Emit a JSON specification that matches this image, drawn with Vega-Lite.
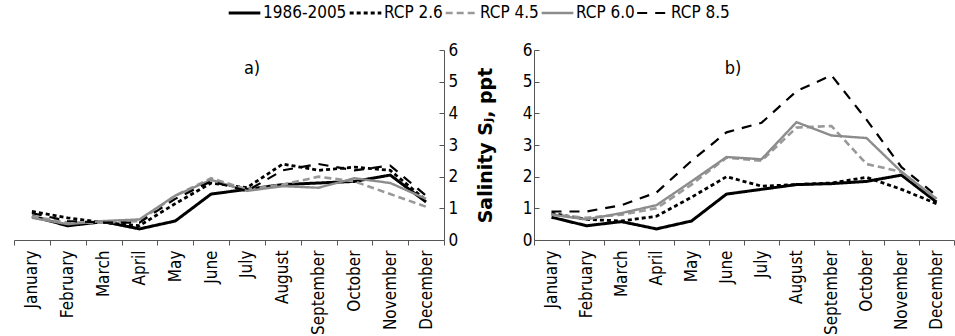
{
  "$schema": "https://vega.github.io/schema/vega-lite/v6.json",
  "padding": {"left": 5, "top": 0, "right": 0, "bottom": 0},
  "config": {
    "view": {"stroke": null},
    "font": "DejaVu Sans Condensed",
    "axis": {"domainColor": "#555", "tickColor": "#555", "labelColor": "#000", "grid": false, "labelFont": "DejaVu Sans Condensed"},
    "legend": {"labelFont": "DejaVu Sans Condensed", "labelFontSize": 17, "labelColor": "#000", "padding": 0},
    "title": {"font": "DejaVu Sans Condensed", "fontSize": 18, "fontWeight": "normal", "color": "#000"}
  },
  "data": {"values": [
    {"panel":"a","series":"1986-2005","month":"January","v":0.75},
    {"panel":"a","series":"1986-2005","month":"February","v":0.45},
    {"panel":"a","series":"1986-2005","month":"March","v":0.58},
    {"panel":"a","series":"1986-2005","month":"April","v":0.35},
    {"panel":"a","series":"1986-2005","month":"May","v":0.6},
    {"panel":"a","series":"1986-2005","month":"June","v":1.45},
    {"panel":"a","series":"1986-2005","month":"July","v":1.6},
    {"panel":"a","series":"1986-2005","month":"August","v":1.75},
    {"panel":"a","series":"1986-2005","month":"September","v":1.8},
    {"panel":"a","series":"1986-2005","month":"October","v":1.85},
    {"panel":"a","series":"1986-2005","month":"November","v":2.05},
    {"panel":"a","series":"1986-2005","month":"December","v":1.2},
    {"panel":"a","series":"RCP 2.6","month":"January","v":0.9},
    {"panel":"a","series":"RCP 2.6","month":"February","v":0.7},
    {"panel":"a","series":"RCP 2.6","month":"March","v":0.55},
    {"panel":"a","series":"RCP 2.6","month":"April","v":0.45},
    {"panel":"a","series":"RCP 2.6","month":"May","v":1.15},
    {"panel":"a","series":"RCP 2.6","month":"June","v":1.8},
    {"panel":"a","series":"RCP 2.6","month":"July","v":1.65},
    {"panel":"a","series":"RCP 2.6","month":"August","v":2.4},
    {"panel":"a","series":"RCP 2.6","month":"September","v":2.2},
    {"panel":"a","series":"RCP 2.6","month":"October","v":2.3},
    {"panel":"a","series":"RCP 2.6","month":"November","v":2.2},
    {"panel":"a","series":"RCP 2.6","month":"December","v":1.25},
    {"panel":"a","series":"RCP 4.5","month":"January","v":0.75},
    {"panel":"a","series":"RCP 4.5","month":"February","v":0.55},
    {"panel":"a","series":"RCP 4.5","month":"March","v":0.55},
    {"panel":"a","series":"RCP 4.5","month":"April","v":0.6},
    {"panel":"a","series":"RCP 4.5","month":"May","v":1.4},
    {"panel":"a","series":"RCP 4.5","month":"June","v":1.95},
    {"panel":"a","series":"RCP 4.5","month":"July","v":1.6},
    {"panel":"a","series":"RCP 4.5","month":"August","v":1.75},
    {"panel":"a","series":"RCP 4.5","month":"September","v":2.0},
    {"panel":"a","series":"RCP 4.5","month":"October","v":1.85},
    {"panel":"a","series":"RCP 4.5","month":"November","v":1.45},
    {"panel":"a","series":"RCP 4.5","month":"December","v":1.05},
    {"panel":"a","series":"RCP 6.0","month":"January","v":0.7},
    {"panel":"a","series":"RCP 6.0","month":"February","v":0.5},
    {"panel":"a","series":"RCP 6.0","month":"March","v":0.6},
    {"panel":"a","series":"RCP 6.0","month":"April","v":0.65},
    {"panel":"a","series":"RCP 6.0","month":"May","v":1.4},
    {"panel":"a","series":"RCP 6.0","month":"June","v":1.9},
    {"panel":"a","series":"RCP 6.0","month":"July","v":1.55},
    {"panel":"a","series":"RCP 6.0","month":"August","v":1.7},
    {"panel":"a","series":"RCP 6.0","month":"September","v":1.65},
    {"panel":"a","series":"RCP 6.0","month":"October","v":1.95},
    {"panel":"a","series":"RCP 6.0","month":"November","v":1.8},
    {"panel":"a","series":"RCP 6.0","month":"December","v":1.3},
    {"panel":"a","series":"RCP 8.5","month":"January","v":0.85},
    {"panel":"a","series":"RCP 8.5","month":"February","v":0.6},
    {"panel":"a","series":"RCP 8.5","month":"March","v":0.55},
    {"panel":"a","series":"RCP 8.5","month":"April","v":0.55},
    {"panel":"a","series":"RCP 8.5","month":"May","v":1.3},
    {"panel":"a","series":"RCP 8.5","month":"June","v":1.85},
    {"panel":"a","series":"RCP 8.5","month":"July","v":1.55},
    {"panel":"a","series":"RCP 8.5","month":"August","v":2.2},
    {"panel":"a","series":"RCP 8.5","month":"September","v":2.4},
    {"panel":"a","series":"RCP 8.5","month":"October","v":2.2},
    {"panel":"a","series":"RCP 8.5","month":"November","v":2.35},
    {"panel":"a","series":"RCP 8.5","month":"December","v":1.4},
    {"panel":"b","series":"1986-2005","month":"January","v":0.72},
    {"panel":"b","series":"1986-2005","month":"February","v":0.45},
    {"panel":"b","series":"1986-2005","month":"March","v":0.58},
    {"panel":"b","series":"1986-2005","month":"April","v":0.35},
    {"panel":"b","series":"1986-2005","month":"May","v":0.6},
    {"panel":"b","series":"1986-2005","month":"June","v":1.45},
    {"panel":"b","series":"1986-2005","month":"July","v":1.6},
    {"panel":"b","series":"1986-2005","month":"August","v":1.75},
    {"panel":"b","series":"1986-2005","month":"September","v":1.78},
    {"panel":"b","series":"1986-2005","month":"October","v":1.85},
    {"panel":"b","series":"1986-2005","month":"November","v":2.05},
    {"panel":"b","series":"1986-2005","month":"December","v":1.2},
    {"panel":"b","series":"RCP 2.6","month":"January","v":0.85},
    {"panel":"b","series":"RCP 2.6","month":"February","v":0.65},
    {"panel":"b","series":"RCP 2.6","month":"March","v":0.6},
    {"panel":"b","series":"RCP 2.6","month":"April","v":0.75},
    {"panel":"b","series":"RCP 2.6","month":"May","v":1.35},
    {"panel":"b","series":"RCP 2.6","month":"June","v":2.0},
    {"panel":"b","series":"RCP 2.6","month":"July","v":1.7},
    {"panel":"b","series":"RCP 2.6","month":"August","v":1.75},
    {"panel":"b","series":"RCP 2.6","month":"September","v":1.8},
    {"panel":"b","series":"RCP 2.6","month":"October","v":1.98},
    {"panel":"b","series":"RCP 2.6","month":"November","v":1.6},
    {"panel":"b","series":"RCP 2.6","month":"December","v":1.15},
    {"panel":"b","series":"RCP 4.5","month":"January","v":0.8},
    {"panel":"b","series":"RCP 4.5","month":"February","v":0.7},
    {"panel":"b","series":"RCP 4.5","month":"March","v":0.8},
    {"panel":"b","series":"RCP 4.5","month":"April","v":1.0},
    {"panel":"b","series":"RCP 4.5","month":"May","v":1.75},
    {"panel":"b","series":"RCP 4.5","month":"June","v":2.6},
    {"panel":"b","series":"RCP 4.5","month":"July","v":2.5},
    {"panel":"b","series":"RCP 4.5","month":"August","v":3.55},
    {"panel":"b","series":"RCP 4.5","month":"September","v":3.6},
    {"panel":"b","series":"RCP 4.5","month":"October","v":2.4},
    {"panel":"b","series":"RCP 4.5","month":"November","v":2.15},
    {"panel":"b","series":"RCP 4.5","month":"December","v":1.3},
    {"panel":"b","series":"RCP 6.0","month":"January","v":0.8},
    {"panel":"b","series":"RCP 6.0","month":"February","v":0.65},
    {"panel":"b","series":"RCP 6.0","month":"March","v":0.85},
    {"panel":"b","series":"RCP 6.0","month":"April","v":1.1},
    {"panel":"b","series":"RCP 6.0","month":"May","v":1.85},
    {"panel":"b","series":"RCP 6.0","month":"June","v":2.62},
    {"panel":"b","series":"RCP 6.0","month":"July","v":2.55},
    {"panel":"b","series":"RCP 6.0","month":"August","v":3.72},
    {"panel":"b","series":"RCP 6.0","month":"September","v":3.3},
    {"panel":"b","series":"RCP 6.0","month":"October","v":3.22},
    {"panel":"b","series":"RCP 6.0","month":"November","v":2.15},
    {"panel":"b","series":"RCP 6.0","month":"December","v":1.3},
    {"panel":"b","series":"RCP 8.5","month":"January","v":0.9},
    {"panel":"b","series":"RCP 8.5","month":"February","v":0.9},
    {"panel":"b","series":"RCP 8.5","month":"March","v":1.1},
    {"panel":"b","series":"RCP 8.5","month":"April","v":1.5},
    {"panel":"b","series":"RCP 8.5","month":"May","v":2.5},
    {"panel":"b","series":"RCP 8.5","month":"June","v":3.4},
    {"panel":"b","series":"RCP 8.5","month":"July","v":3.7},
    {"panel":"b","series":"RCP 8.5","month":"August","v":4.7},
    {"panel":"b","series":"RCP 8.5","month":"September","v":5.2},
    {"panel":"b","series":"RCP 8.5","month":"October","v":3.8},
    {"panel":"b","series":"RCP 8.5","month":"November","v":2.3},
    {"panel":"b","series":"RCP 8.5","month":"December","v":1.4}
  ]},
  "spacing": 18,
  "hconcat": [
    {
      "width": 430, "height": 190,
      "title": {"text": "a)", "offset": -37, "anchor": "middle", "dx": 23},
      "transform": [{"filter": "datum.panel === 'a'"}],
      "mark": {"type": "line", "strokeJoin": "miter", "strokeCap": "butt"},
      "encoding": {
        "x": {"field": "month", "type": "nominal",
          "scale": {"type": "band", "paddingInner": 0, "paddingOuter": 0, "domain": ["January","February","March","April","May","June","July","August","September","October","November","December"]},
          "axis": {"title": null, "labelAngle": -90, "labelFontSize": 17, "tickBand": "extent", "tickSize": 5, "labelPadding": 5}},
        "y": {"field": "v", "type": "quantitative",
          "scale": {"domain": [0, 6]},
          "axis": {"orient": "right", "title": null, "values": [0,1,2,3,4,5,6], "labelFontSize": 17, "tickSize": -5, "labelPadding": 9}},
        "color": {"field": "series", "type": "nominal", "title": null,
          "scale": {"domain": ["1986-2005","RCP 2.6","RCP 4.5","RCP 6.0","RCP 8.5"], "range": ["#000000","#000000","#999999","#8c8c8c","#000000"]}},
        "strokeDash": {"field": "series", "type": "nominal", "title": null,
          "scale": {"domain": ["1986-2005","RCP 2.6","RCP 4.5","RCP 6.0","RCP 8.5"], "range": [[1,0],[4,3],[7,4],[1,0],[10,8]]}},
        "strokeWidth": {"field": "series", "type": "nominal", "title": null,
          "scale": {"domain": ["1986-2005","RCP 2.6","RCP 4.5","RCP 6.0","RCP 8.5"], "range": [3,2.2,2.5,2.5,2.5]}}
      }
    },
    {
      "width": 420, "height": 190,
      "title": {"text": "b)", "offset": -37, "anchor": "middle", "dx": -11},
      "transform": [{"filter": "datum.panel === 'b'"}],
      "mark": {"type": "line", "strokeJoin": "miter", "strokeCap": "butt"},
      "encoding": {
        "x": {"field": "month", "type": "nominal",
          "scale": {"type": "band", "paddingInner": 0, "paddingOuter": 0, "domain": ["January","February","March","April","May","June","July","August","September","October","November","December"]},
          "axis": {"title": null, "labelAngle": -90, "labelFontSize": 17, "tickBand": "extent", "tickSize": 5, "labelPadding": 5}},
        "y": {"field": "v", "type": "quantitative",
          "scale": {"domain": [0, 6]},
          "axis": {"orient": "left", "title": "Salinity S\u2c7c, ppt", "titleFont": "DejaVu Sans", "titleFontSize": 19, "titleFontWeight": "bold", "titleColor": "#000", "values": [0,1,2,3,4,5,6], "labelFontSize": 17, "tickSize": -5, "labelPadding": 7, "titlePadding": 27}},
        "color": {"field": "series", "type": "nominal", "title": null,
          "scale": {"domain": ["1986-2005","RCP 2.6","RCP 4.5","RCP 6.0","RCP 8.5"], "range": ["#000000","#000000","#999999","#8c8c8c","#000000"]},
          "legend": {"orient": "none", "legendX": 213, "legendY": -50, "direction": "horizontal", "symbolSize": 1000, "symbolType": "stroke", "columnPadding": 1, "labelOffset": 1, "clipHeight": 26}},
        "strokeDash": {"field": "series", "type": "nominal", "title": null,
          "scale": {"domain": ["1986-2005","RCP 2.6","RCP 4.5","RCP 6.0","RCP 8.5"], "range": [[1,0],[4,3],[7,4],[1,0],[10,8]]}},
        "strokeWidth": {"field": "series", "type": "nominal", "title": null,
          "scale": {"domain": ["1986-2005","RCP 2.6","RCP 4.5","RCP 6.0","RCP 8.5"], "range": [3,2.2,2.5,2.5,2.5]}}
      }
    }
  ]
}
